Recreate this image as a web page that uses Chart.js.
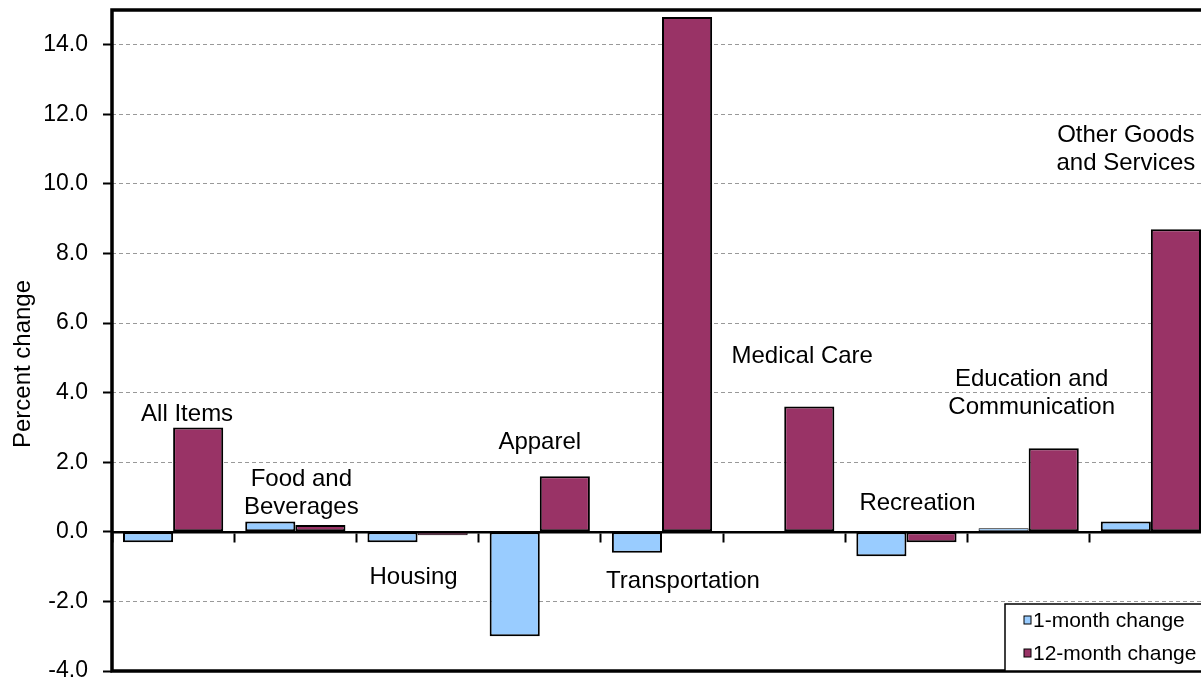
<!DOCTYPE html>
<html>
<head>
<meta charset="utf-8">
<title>Percent change by category</title>
<script src="https://cdn.jsdelivr.net/npm/chart.js@4.4.1/dist/chart.umd.min.js"></script>
<style>
  html, body { margin: 0; padding: 0; background: #fff; overflow: hidden; }
  #wrap { width: 1214px; height: 680px; position: relative; }
</style>
</head>
<body>
<div id="wrap"><canvas id="cpiChart"></canvas></div>
<script>
// data
const categories = ['All Items', ['Food and', 'Beverages'], 'Housing', 'Apparel', 'Transportation',
  'Medical Care', 'Recreation', ['Education and', 'Communication'], ['Other Goods', 'and Services']];
const oneMonth = [-0.3, 0.3, -0.3, -3.0, -0.6, 0.0, -0.7, 0.1, 0.3];
const twelveMonth = [3.0, 0.2, -0.1, 1.6, 14.8, 3.6, -0.3, 2.4, 8.7];
const seriesNames = ['1-month change', '12-month change'];
const yTicks = [-4, -2, 0, 2, 4, 6, 8, 10, 12, 14];

// where each category label sits: px shift from category centre, and height in axis units
const labelShiftX = [14, 6, -4, 0, 21, 18, 11, 3, -25];
const labelAtValue = [3.37, 1.11, -1.31, 2.58, -1.42, 5.03, 0.83, 3.99, 10.99];

const FONT = '"Liberation Sans", Arial, Helvetica, sans-serif';

// thin bars keep some fill visible
function barBorder(c) {
  const v = c.raw;
  return Math.abs(v) < 0.15 ? 1 : 2;
}

const extras = {
  id: 'extras',
  afterDatasetsDraw(chart) {
    const ctx = chart.ctx;
    const x = chart.scales.x, y = chart.scales.y;
    ctx.save();
    ctx.fillStyle = '#000';
    ctx.font = '24px ' + FONT;
    ctx.textAlign = 'center';
    ctx.textBaseline = 'middle';
    categories.forEach(function(cat, i) {
      const lines = Array.isArray(cat) ? cat : [cat];
      const cx = x.getPixelForValue(i) + labelShiftX[i];
      const cy = y.getPixelForValue(labelAtValue[i]);
      lines.forEach(function(line, k) {
        ctx.fillText(line, cx, cy + (k - (lines.length - 1) / 2) * 28);
      });
    });
    ctx.restore();
  },
  afterDraw(chart) {
    const ctx = chart.ctx;
    const a = chart.chartArea;
    ctx.save();
    // plot frame
    ctx.strokeStyle = '#000';
    ctx.lineWidth = 3.5;
    ctx.strokeRect(a.left, a.top, a.right - a.left, a.bottom - a.top);

    // y axis title
    ctx.fillStyle = '#000';
    ctx.font = '24px ' + FONT;
    ctx.textAlign = 'center';
    ctx.textBaseline = 'middle';
    ctx.translate(23, 364);
    ctx.rotate(-Math.PI / 2);
    ctx.fillText('Percent change', 0, 0);
    ctx.setTransform(1, 0, 0, 1, 0, 0);

    // legend box
    const lx = a.right - 207, ly = a.bottom - 67;
    ctx.fillStyle = '#fff';
    ctx.fillRect(lx, ly, 207, 67);
    ctx.lineWidth = 1.5;
    ctx.strokeRect(lx, ly, 207, 67);
    ctx.font = '21px ' + FONT;
    ctx.textAlign = 'left';
    chart.data.datasets.forEach(function(ds, i) {
      const ry = ly + 16 + i * 33;
      ctx.fillStyle = ds.backgroundColor;
      ctx.fillRect(lx + 19, ry - 4, 7, 8);
      ctx.lineWidth = 1;
      ctx.strokeStyle = '#000';
      ctx.strokeRect(lx + 19, ry - 4, 7, 8);
      ctx.fillStyle = '#000';
      ctx.fillText(ds.label, lx + 28, ry + 1);
    });
    ctx.restore();
  }
};

new Chart(document.getElementById('cpiChart'), {
  type: 'bar',
  data: {
    labels: categories,
    datasets: [
      {
        label: seriesNames[0],
        data: oneMonth,
        backgroundColor: '#99CCFF',
        borderColor: '#000',
        borderWidth: barBorder,
        borderSkipped: false
      },
      {
        label: seriesNames[1],
        data: twelveMonth,
        backgroundColor: '#993366',
        borderColor: '#000',
        borderWidth: barBorder,
        borderSkipped: false
      }
    ]
  },
  options: {
    responsive: true,
    maintainAspectRatio: false,
    animation: false,
    layout: { padding: { top: 10, bottom: 9, left: 0, right: 2 } },
    datasets: { bar: { categoryPercentage: 0.82, barPercentage: 1.0 } },
    plugins: {
      legend: { display: false },
      tooltip: { enabled: false }
    },
    scales: {
      x: {
        type: 'category',
        position: { y: 0 },
        offset: true,
        ticks: { display: false },
        grid: {
          offset: true,
          drawOnChartArea: false,
          drawTicks: true,
          tickLength: 9,
          tickColor: '#000',
          tickWidth: 2
        },
        border: { display: true, color: '#000', width: 2.5, z: 1 }
      },
      y: {
        min: -4,
        max: 15,
        afterBuildTicks: function(scale) {
          scale.ticks = yTicks.map(function(v) { return { value: v }; });
        },
        afterFit: function(scale) {
          scale.width = 112;
          scale.paddingTop = 0;
          scale.paddingBottom = 0;
        },
        ticks: {
          padding: 15,
          color: '#000',
          font: { family: FONT, size: 23 },
          callback: function(v) { return Number(v).toFixed(1); }
        },
        grid: {
          color: '#999',
          lineWidth: 1,
          tickColor: '#000',
          tickWidth: 2,
          tickLength: 9,
          tickBorderDash: []
        },
        border: { display: false, dash: [4, 3] }
      }
    }
  },
  plugins: [extras]
});
</script>
</body>
</html>
